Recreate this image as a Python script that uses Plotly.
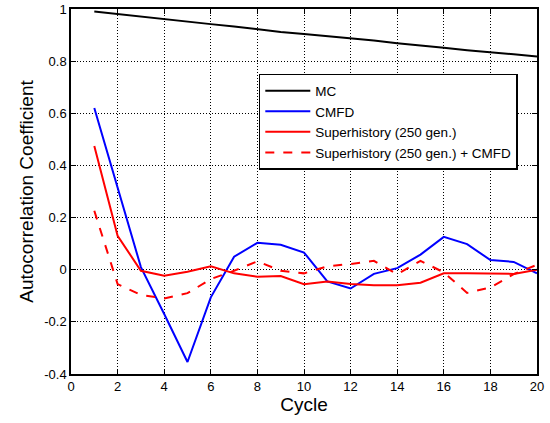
import plotly.graph_objects as go

cycles = list(range(1, 21))
mc = [0.99, 0.98, 0.97, 0.96, 0.95, 0.942, 0.933, 0.922, 0.912, 0.904, 0.896,
      0.888, 0.879, 0.869, 0.859, 0.851, 0.842, 0.833, 0.826, 0.818]
cmfd = [0.62, 0.32, 0.01, -0.17, -0.354, -0.106, 0.05, 0.103, 0.096, 0.066,
        -0.045, -0.072, -0.016, 0.006, 0.058, 0.126, 0.098, 0.037, 0.03, -0.014]
superhist = [0.475, 0.13, -0.004, -0.023, -0.008, 0.013, -0.014, -0.027, -0.024, -0.056,
             -0.045, -0.055, -0.06, -0.06, -0.05, -0.014, -0.014, -0.016, -0.016, 0.0]
superhist_cmfd = [0.226, -0.055, -0.097, -0.11, -0.09, -0.036, -0.004, 0.032, -0.004, -0.014,
                  0.013, 0.022, 0.034, -0.017, 0.034, -0.01, -0.089, -0.068, -0.017, 0.019]

x_ticks = [0, 2, 4, 6, 8, 10, 12, 14, 16, 18, 20]
y_ticks = [-0.4, -0.2, 0, 0.2, 0.4, 0.6, 0.8, 1]
y_tick_labels = ["-0.4", "-0.2", "0", "0.2", "0.4", "0.6", "0.8", "1"]

FONT = "Liberation Sans, Arial, sans-serif"

fig = go.Figure()
fig.add_trace(go.Scatter(x=cycles, y=mc, mode="lines", name="MC",
                         line=dict(color="black", width=2)))
fig.add_trace(go.Scatter(x=cycles, y=cmfd, mode="lines", name="CMFD",
                         line=dict(color="#0000ff", width=2)))
fig.add_trace(go.Scatter(x=cycles, y=superhist, mode="lines", name="Superhistory (250 gen.)",
                         line=dict(color="#ff0000", width=2)))
fig.add_trace(go.Scatter(x=cycles, y=superhist_cmfd, mode="lines",
                         name="Superhistory (250 gen.) + CMFD",
                         line=dict(color="#ff0000", width=2, dash="dash")))

axis_common = dict(
    showline=True, linecolor="black", linewidth=1.5, mirror="ticks",
    ticks="inside", ticklen=5, tickcolor="black",
    showgrid=True, gridcolor="black", griddash="1px,2px", gridwidth=1,
    zeroline=False, automargin=False,
    tickfont=dict(family=FONT, size=13, color="black"),
)

fig.update_layout(
    width=550, height=423,
    margin=dict(l=71, r=13, t=9, b=49),
    paper_bgcolor="white", plot_bgcolor="white",
    font=dict(family=FONT, color="black"),
    xaxis=dict(range=[0, 20], tickvals=x_ticks,
               title=dict(text="Cycle", font=dict(size=19), standoff=4),
               **axis_common),
    yaxis=dict(range=[-0.4, 1], tickvals=y_ticks, ticktext=y_tick_labels,
               title=dict(text="Autocorrelation Coefficient", font=dict(size=19), standoff=6),
               **axis_common),
    legend=dict(x=0.403, y=0.822, xanchor="left", yanchor="top",
                bgcolor="white", bordercolor="black", borderwidth=1.5,
                itemwidth=45,
                font=dict(size=13.5, color="black"), tracegroupgap=0),
    showlegend=True,
)

fig.write_html("out.html",
               config={"displayModeBar": False},
               post_script="document.body.style.margin='0';document.body.style.overflow='hidden';")
